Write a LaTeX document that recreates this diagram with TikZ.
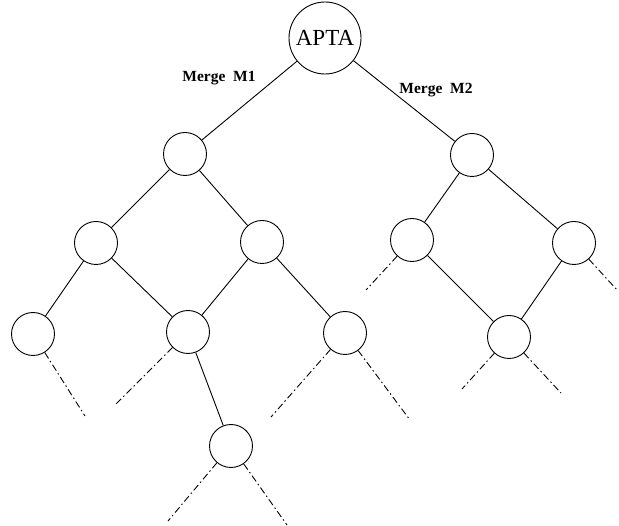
\documentclass[tikz,border=0pt]{standalone}
\usepackage{fontspec}
\setmainfont{Liberation Serif}
\begin{document}
\begin{tikzpicture}[x=1pt,y=-1pt,
  nd/.style={circle,draw,line width=0.9pt,minimum size=43pt,inner sep=0pt},
  root/.style={circle,draw,line width=0.9pt,minimum size=72pt,inner sep=0pt,font=\fontsize{23}{25}\selectfont},
  ed/.style={line width=0.9pt},
  dd/.style={line width=0.9pt,dash pattern=on 7pt off 3pt on 1.5pt off 3pt},
  lab/.style={font=\fontsize{15.5}{17}\selectfont\bfseries}]
\useasboundingbox (0,0) rectangle (619,526);
\node[root] (apta) at (325,38) {APTA};
\node[nd] (a) at (185,154) {};
\node[nd] (b) at (472,155) {};
\node[nd] (a1) at (96,243) {};
\node[nd] (a2) at (262,242) {};
\node[nd] (b1) at (412,240) {};
\node[nd] (b2) at (574,243) {};
\node[nd] (c1) at (33,334) {};
\node[nd] (c2) at (188,332) {};
\node[nd] (c3) at (345,333) {};
\node[nd] (c4) at (509,337) {};
\node[nd] (d1) at (231,446) {};
\node[lab] (m1) at (219,78) {Merge~~M1};
\node[lab] (m2) at (436,90) {Merge~~M2};
\coordinate (e1) at (85,416);
\coordinate (e2) at (115,405);
\coordinate (e3) at (271,417);
\coordinate (e4) at (410,420);
\coordinate (e5) at (366,290);
\coordinate (e6) at (618,291);
\coordinate (e7) at (462,389);
\coordinate (e8) at (561,393);
\coordinate (e9) at (168,521);
\coordinate (e10) at (287,525);
\draw[ed] (apta) -- (a);
\draw[ed] (apta) -- (b);
\draw[ed] (a) -- (a1);
\draw[ed] (a) -- (a2);
\draw[ed] (a1) -- (c1);
\draw[ed] (a1) -- (c2);
\draw[ed] (a2) -- (c2);
\draw[ed] (a2) -- (c3);
\draw[ed] (c2) -- (d1);
\draw[ed] (b) -- (b1);
\draw[ed] (b) -- (b2);
\draw[ed] (b1) -- (c4);
\draw[ed] (b2) -- (c4);
\draw[dd] (c1) -- (e1);
\draw[dd] (c2) -- (e2);
\draw[dd] (c3) -- (e3);
\draw[dd] (c3) -- (e4);
\draw[dd] (b1) -- (e5);
\draw[dd] (b2) -- (e6);
\draw[dd] (c4) -- (e7);
\draw[dd] (c4) -- (e8);
\draw[dd] (d1) -- (e9);
\draw[dd] (d1) -- (e10);
\end{tikzpicture}
\end{document}
